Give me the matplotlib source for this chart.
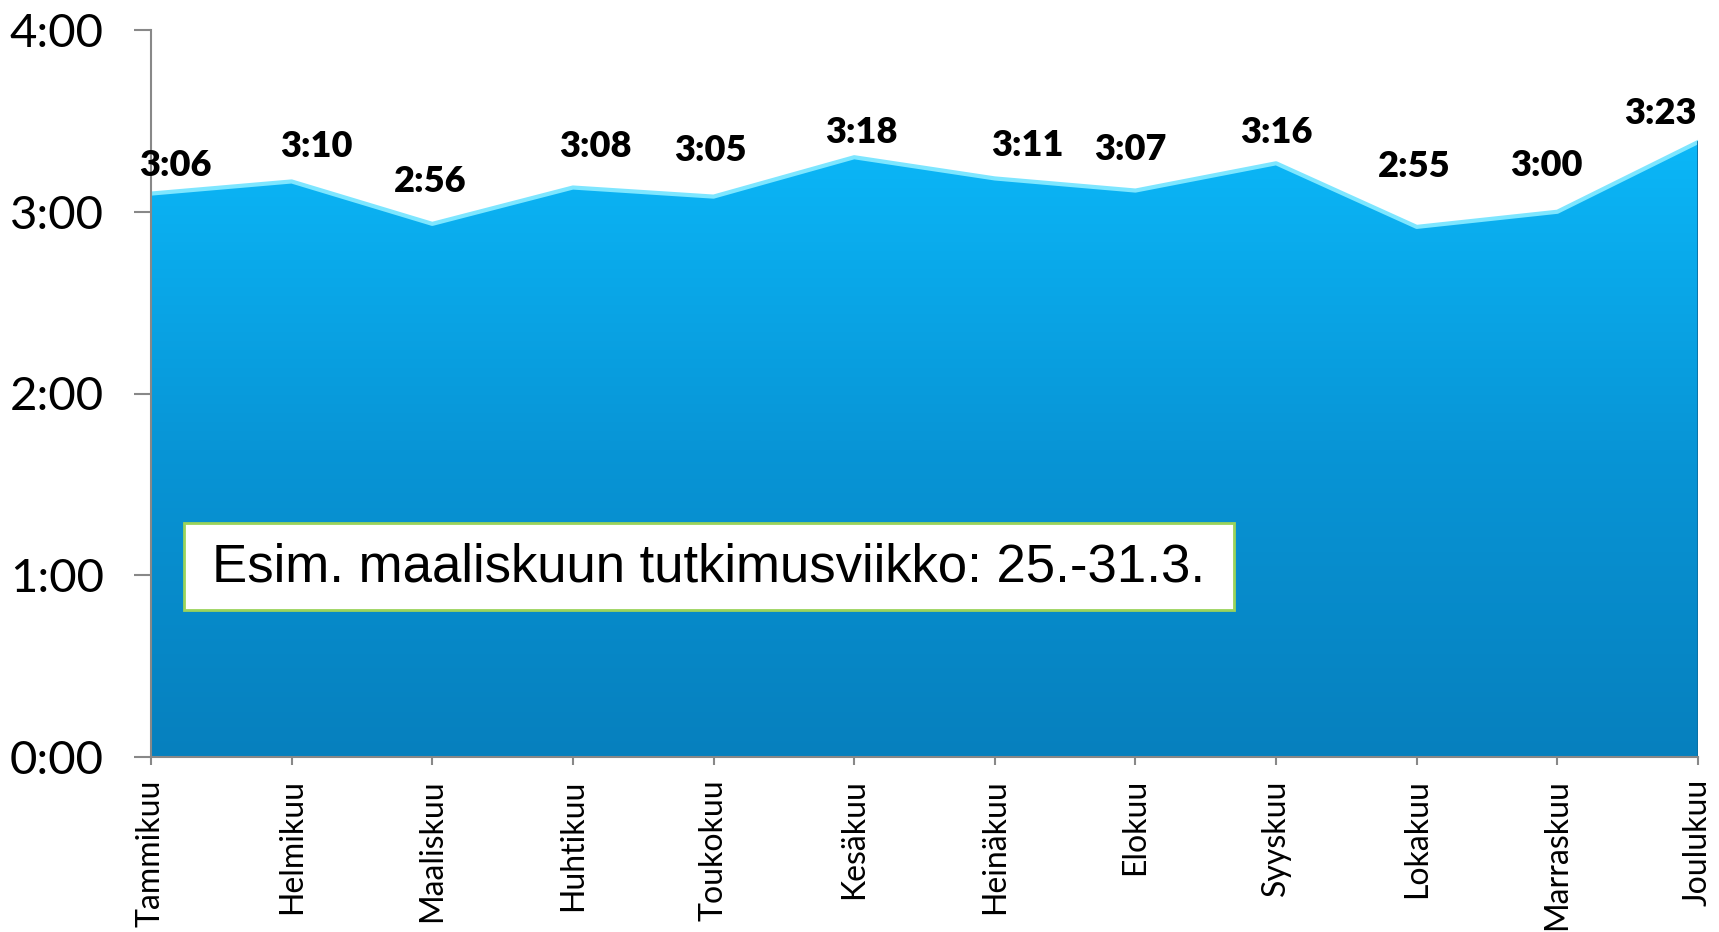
import numpy as np
import matplotlib.pyplot as plt
from matplotlib.colors import LinearSegmentedColormap
from matplotlib.patches import Rectangle

# data: average daily time per month (minutes)
kuukaudet = ['Tammikuu', 'Helmikuu', 'Maaliskuu', 'Huhtikuu', 'Toukokuu', 'Kesäkuu',
             'Heinäkuu', 'Elokuu', 'Syyskuu', 'Lokakuu', 'Marraskuu', 'Joulukuu']
minuutit = [186, 190, 176, 188, 185, 198, 191, 187, 196, 175, 180, 203]
y_tikit = [0, 60, 120, 180, 240]
huomautus = 'Esim. maaliskuun tutkimusviikko: 25.-31.3.'

# label placement tweaks (pixels), imitating the original label positions
label_dx = [24, 25, -2, 22, -3, 7, 33, -5, 0, -3, -11, -38]
label_dy = [18, 24, 32, 31, 36, 14, 22, 31, 20, 50, 36, 18]


def hm(m):
    m = int(round(m))
    return f'{m // 60}:{m % 60:02d}'


W, H = 1719, 932
fig = plt.figure(figsize=(W / 100, H / 100), dpi=100)
ax = fig.add_axes([151 / W, 1 - 757 / H, (1698 - 151) / W, (757 - 30) / H])

x = np.arange(len(kuukaudet))
y = np.array(minuutit) / 60

# area with vertical gradient
alue = ax.fill_between(x, 0, y, color='none', lw=0)
grad = np.linspace(0, 1, 256).reshape(-1, 1)
cmap = LinearSegmentedColormap.from_list('sini', ['#0680BE', '#0895D6', '#0BB7F8'])
im = ax.imshow(grad, cmap=cmap, aspect='auto', extent=[0, 11, 0, y.max()],
               origin='lower', zorder=1, interpolation='bilinear')
im.set_clip_path(alue.get_paths()[0], transform=ax.transData)
ax.plot(x, y, color='#7EE6FF', lw=3, zorder=3, solid_joinstyle='round')
ax.plot([11, 11], [0, y[-1]], color='#0A6FA3', lw=2, zorder=3)

ax.set_xlim(0, 11)
ax.set_ylim(0, 4)
ax.set_yticks([t / 60 for t in y_tikit])
ax.set_yticklabels([hm(t) for t in y_tikit], fontsize=34, family='Lato')
ax.set_xticks(x)
ax.set_xticklabels(kuukaudet, rotation=90, fontsize=23, family='Lato', va='top')

for s in ['top', 'right']:
    ax.spines[s].set_visible(False)
for s in ['left', 'bottom']:
    ax.spines[s].set_color('#888888')
    ax.spines[s].set_linewidth(1.5)
    ax.spines[s].set_zorder(4)
ax.tick_params(axis='y', direction='out', length=12, width=1.5, color='#888888', pad=22)
ax.tick_params(axis='x', direction='out', length=6, width=1.5, color='#888888', pad=10)

# data labels
for i in range(len(x)):
    ax.annotate(hm(minuutit[i]), (x[i], y[i]),
                xytext=(label_dx[i] * 0.72, label_dy[i] * 0.72), textcoords='offset points',
                ha='center', va='baseline', fontsize=26, fontweight='heavy',
                family='Lato', zorder=5, annotation_clip=False)

# note box
fig.patches.append(Rectangle((184 / W, 1 - 610 / H), 1050 / W, 87 / H,
                             transform=fig.transFigure, facecolor='white',
                             edgecolor='#9BD35A', lw=2, zorder=5))
fig.text(709 / W, 1 - 567 / H, huomautus, ha='center', va='center',
         fontsize=38, family='Liberation Sans', zorder=6)

fig.savefig('out.png', dpi=100)
